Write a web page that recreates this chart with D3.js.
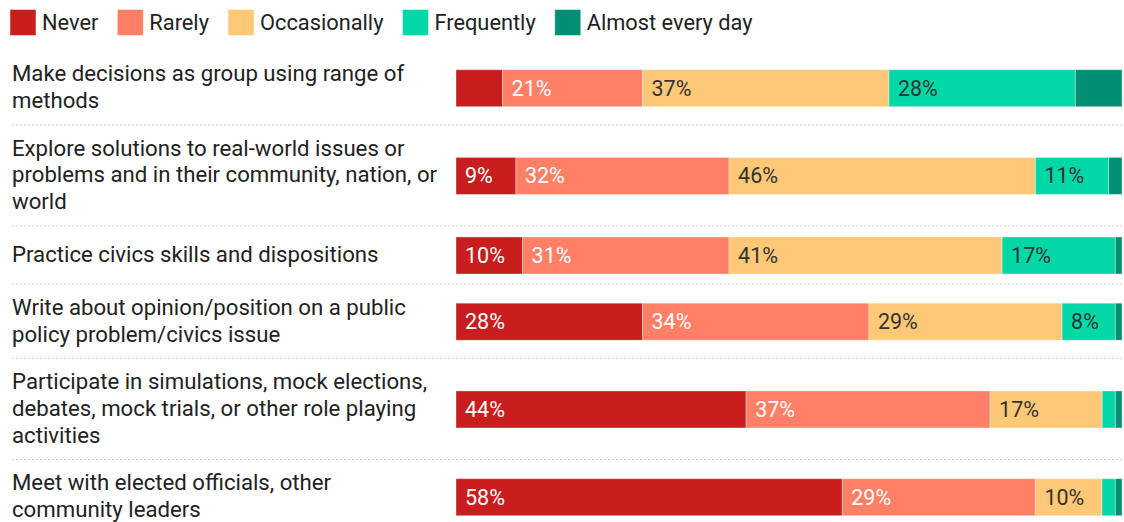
<!DOCTYPE html>
<html>
<head>
<meta charset="utf-8">
<script src="https://cdn.jsdelivr.net/npm/d3@7/dist/d3.min.js"></script>
<style>
  html, body { margin: 0; padding: 0; background: #fff; }
  svg { display: block; font-family: Roboto, "Noto Sans", sans-serif; font-weight: 400; }
</style>
</head>
<body>
<svg id="chart" width="1124" height="522"></svg>
<script>
// Survey activities (line breaks mark where each label wraps)
const categories = [
  "Make decisions as group using range of\nmethods",
  "Explore solutions to real-world issues or\nproblems and in their community, nation, or\nworld",
  "Practice civics skills and dispositions",
  "Write about opinion/position on a public\npolicy problem/civics issue",
  "Participate in simulations, mock elections,\ndebates, mock trials, or other role playing\nactivities",
  "Meet with elected officials, other\ncommunity leaders"
];

const responses = ["Never", "Rarely", "Occasionally", "Frequently", "Almost every day"];

// Share of respondents (%) per response, in category order
const never        = [7, 9, 10, 28, 44, 58];
const rarely       = [21, 32, 31, 34, 37, 29];
const occasionally = [37, 46, 41, 29, 17, 10];
const frequently   = [28, 11, 17, 8, 2, 2];
const almostDaily  = [7, 2, 1, 1, 1, 1];

const colors = ["#c81e1e", "#ff7f67", "#fec877", "#00d8a7", "#008f73"];
const labelColors = ["#ffffff", "#ffffff", "#333333", "#333333", "#333333"];
const minLabelValue = 8;

const seriesValues = [never, rarely, occasionally, frequently, almostDaily];
const rows = categories.map((c, i) => {
  const r = { category: c };
  responses.forEach((k, j) => { r[k] = seriesValues[j][i]; });
  return r;
});

const svg = d3.select("#chart");
const legendSize = 21.8;
const labelSize = 22.2;
const valueSize = 21.5;
const lineH = 26.7;
const barH = 37;
const rowPad = 21;
const topY = 50;
const labelX = 12;

// Row heights depend on the number of wrapped label lines
const lineCounts = categories.map(c => c.split("\n").length);
const rowTops = [];
let acc = topY;
lineCounts.forEach(n => {
  rowTops.push(acc);
  acc += Math.max(n * lineH, barH) + rowPad;
});
rowTops.push(acc);
const rowCenter = i => (rowTops[i] + rowTops[i + 1]) / 2;

const x = d3.scaleLinear().domain([0, 1]).range([456, 1122]);
const color = d3.scaleOrdinal().domain(responses).range(colors);
const textColor = d3.scaleOrdinal().domain(responses).range(labelColors);

const stacked = d3.stack()
  .keys(responses)
  .offset(d3.stackOffsetExpand)(rows);

// Legend
const legend = svg.append("g").attr("class", "legend");
let lx = 10;
responses.forEach(k => {
  const g = legend.append("g").attr("transform", `translate(${lx},9.5)`);
  g.append("rect")
    .attr("width", 26).attr("height", 26)
    .attr("fill", color(k))
    .attr("stroke", "rgba(255,255,255,0.45)").attr("stroke-width", 1);
  const t = g.append("text")
    .attr("x", 32).attr("y", 20.5)
    .attr("font-size", legendSize)
    .attr("fill", "#222")
    .text(k);
  lx += 32 + t.node().getComputedTextLength() + 19;
});

// Dotted separators between rows
svg.append("g").selectAll("line")
  .data(rowTops.slice(1, categories.length))
  .join("line")
  .attr("x1", labelX).attr("x2", x(1))
  .attr("y1", d => d + 0.5).attr("y2", d => d + 0.5)
  .attr("stroke", "#cfcfcf")
  .attr("stroke-width", 1)
  .attr("stroke-dasharray", "2,2");

// Category labels
const labels = svg.append("g").selectAll("text")
  .data(categories)
  .join("text")
  .attr("font-size", labelSize)
  .attr("fill", "#222");
labels.each(function(c, i) {
  const lines = c.split("\n");
  const n = lines.length;
  d3.select(this).selectAll("tspan")
    .data(lines)
    .join("tspan")
    .attr("x", labelX)
    .attr("y", (d, j) => rowCenter(i) + 7.5 + (j - (n - 1) / 2) * lineH)
    .text(d => d);
});

// Stacked bars
const layers = svg.append("g").selectAll("g")
  .data(stacked)
  .join("g")
  .attr("fill", d => color(d.key));

layers.selectAll("rect")
  .data(d => d.map((v, i) => ({ key: d.key, v, i })))
  .join("rect")
  .attr("x", d => x(d.v[0]))
  .attr("width", d => x(d.v[1]) - x(d.v[0]))
  .attr("y", d => rowCenter(d.i) + 1 - barH / 2)
  .attr("height", barH)
  .attr("stroke", "rgba(255,255,255,0.35)")
  .attr("stroke-width", 1);

// Value labels inside segments
layers.selectAll("text")
  .data(d => d.map((v, i) => ({ key: d.key, v, i, value: v.data[d.key] }))
    .filter(d => d.value >= minLabelValue))
  .join("text")
  .attr("x", d => x(d.v[0]) + 9)
  .attr("y", d => rowCenter(d.i) + 1 + 7.5)
  .attr("font-size", valueSize)
  .attr("fill", d => textColor(d.key))
  .text(d => d.value + "%");
</script>
</body>
</html>
